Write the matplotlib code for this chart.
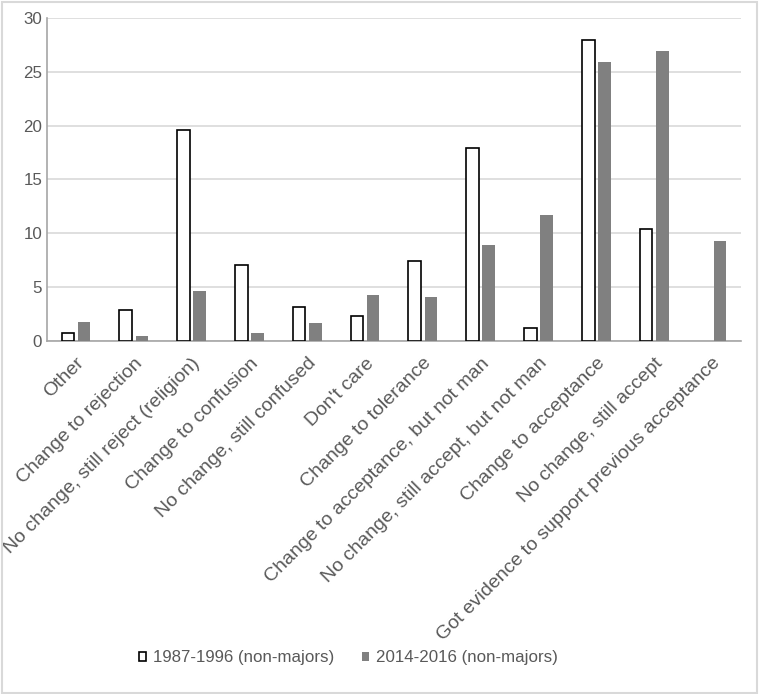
import matplotlib.pyplot as plt
import numpy as np

plt.rcParams['font.family'] = ['Liberation Sans', 'DejaVu Sans']

categories = ["Other", "Change to rejection", "No change, still reject (religion)",
              "Change to confusion", "No change, still confused", "Don't care",
              "Change to tolerance", "Change to acceptance, but not man",
              "No change, still accept, but not man", "Change to acceptance",
              "No change, still accept", "Got evidence to support previous acceptance"]
old_vals = [0.68, 2.83, 19.56, 7.05, 3.1, 2.33, 7.42, 17.89, 1.15, 28.0, 10.37, 0]
new_vals = [1.7, 0.43, 4.66, 0.71, 1.61, 4.29, 4.04, 8.88, 11.68, 25.9, 26.9, 9.29]
labels = ["1987-1996 (non-majors)", "2014-2016 (non-majors)"]

fig = plt.figure(figsize=(7.59, 6.94), dpi=100)
ax = fig.add_axes([0.062, 0.509, 0.914, 0.465])

x = np.arange(len(categories))
w = 0.22
# no outline for empty bars
lw = [1.2 if v > 0 else 0 for v in old_vals]
ax.bar(x - 0.14, old_vals, w, color='white', edgecolor='black', linewidth=lw,
       label=labels[0], zorder=3)
ax.bar(x + 0.14, new_vals, w, color='#808080', label=labels[1], zorder=3)

ax.set_xlim(-0.5, len(categories) - 0.5)
ax.set_ylim(0, 30)
ax.set_yticks(range(0, 31, 5))
ax.grid(axis='y', color='#d9d9d9', linewidth=1.2, zorder=0)
ax.set_xticks(x)
ax.set_xticklabels(categories, rotation=45, ha='right', rotation_mode='anchor')
ax.tick_params(length=0, labelsize=12.2, colors='#595959')
ax.tick_params(axis='x', labelsize=14, pad=10)
for s in ['top', 'right']:
    ax.spines[s].set_visible(False)
for s in ['left', 'bottom']:
    ax.spines[s].set_color('#a6a6a6')
    ax.spines[s].set_linewidth(1.2)

fig.legend(loc='center', bbox_to_anchor=(0.459, 0.052), ncol=2, frameon=False,
           fontsize=12.2, handlelength=0.45, handleheight=0.45, handletextpad=0.4,
           columnspacing=1.6, labelcolor='#595959')

fig.patches.append(plt.Rectangle((0.002, 0.002), 0.995, 0.995, transform=fig.transFigure,
                                 fill=False, edgecolor='#d9d9d9', linewidth=1.5))

fig.savefig('out.png', dpi=100)
